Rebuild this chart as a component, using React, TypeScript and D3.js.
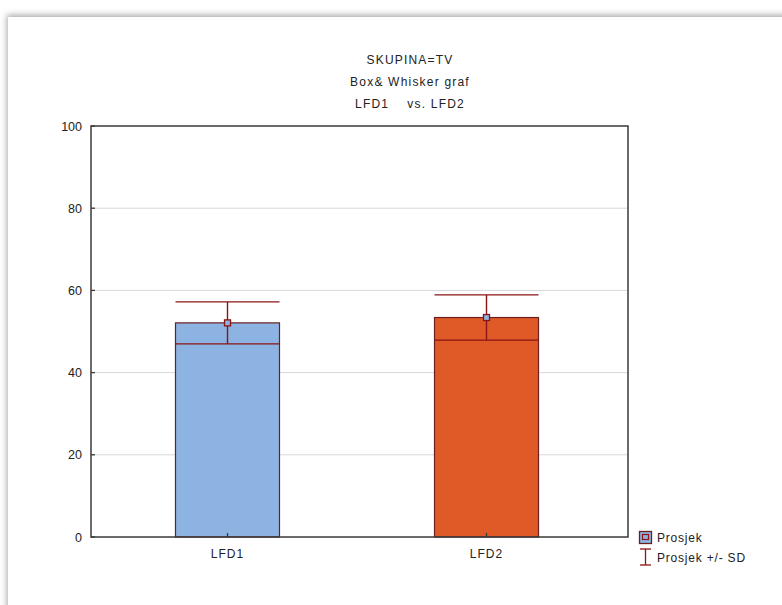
import React from "react";
import * as d3 from "d3";

const categories = ["LFD1", "LFD2"];
const means = [52.1, 53.4];
const sds = [5.1, 5.5];
const barColors = ["#8DB3E2", "#E05A28"];
const yTicks = [0, 20, 40, 60, 80, 100];
const titleLines = ["SKUPINA=TV", "Box& Whisker graf", "LFD1    vs. LFD2"];
const legendLabels = ["Prosjek", "Prosjek +/- SD"];

const W = 782;
const H = 605;
const plot = { left: 91, right: 628, top: 126, bottom: 537 };
const FONT = "'Liberation Sans', Arial, sans-serif";
const DARKRED = "#8B1414";
const AXIS = "#3a3a3a";

export default function App() {
  const y = d3.scaleLinear().domain([0, 100]).range([plot.bottom, plot.top]);
  const x = d3
    .scalePoint<string>()
    .domain(categories)
    .range([plot.left, plot.right - 5])
    .padding(0.527);
  const barW = 104;
  const capW = 104;

  return (
    <svg
      width={W}
      height={H}
      style={{ position: "absolute", left: 0, top: 0, background: "#fff" }}
      fontFamily={FONT}
    >
      <defs>
        <filter id="sh" x="-5%" y="-5%" width="110%" height="110%">
          <feGaussianBlur in="SourceAlpha" stdDeviation="3" />
          <feOffset dx="-1" dy="-2" result="b" />
          <feFlood floodColor="#000" floodOpacity="0.35" />
          <feComposite in2="b" operator="in" />
          <feMerge>
            <feMergeNode />
            <feMergeNode in="SourceGraphic" />
          </feMerge>
        </filter>
      </defs>
      <rect x={8} y={17} width={W + 20} height={H + 20} fill="#fff" filter="url(#sh)" />

      {titleLines.map((t, i) => (
        <text
          key={i}
          x={410}
          y={64 + i * 22}
          textAnchor="middle"
          fontSize={12}
          letterSpacing={1.2}
          fill="#222"
          style={{ whiteSpace: "pre" }}
        >
          {t}
        </text>
      ))}

      {/* grid */}
      {yTicks
        .filter((t) => t > 0 && t < 100)
        .map((t) => (
          <line
            key={t}
            x1={plot.left}
            x2={plot.right}
            y1={y(t)}
            y2={y(t)}
            stroke="#d8d8d8"
            strokeWidth={1}
          />
        ))}

      {/* bars */}
      {categories.map((c, i) => {
        const cx = x(c)!;
        const m = means[i];
        const s = sds[i];
        return (
          <g key={c}>
            <rect
              x={cx - barW / 2}
              y={y(m)}
              width={barW}
              height={y(0) - y(m)}
              fill={barColors[i]}
              stroke="#6a2020"
              strokeWidth={1.2}
            />
            <line x1={cx} x2={cx} y1={y(m + s)} y2={y(m - s)} stroke={DARKRED} strokeWidth={1.4} />
            <line x1={cx - capW / 2} x2={cx + capW / 2} y1={y(m + s)} y2={y(m + s)} stroke={DARKRED} strokeWidth={1.4} />
            <line x1={cx - capW / 2} x2={cx + capW / 2} y1={y(m - s)} y2={y(m - s)} stroke={DARKRED} strokeWidth={1.4} />
            <rect x={cx - 3} y={y(m) - 3} width={6} height={6} fill="#8DB3E2" stroke={DARKRED} strokeWidth={1.3} />
          </g>
        );
      })}

      {/* frame */}
      <rect
        x={plot.left}
        y={plot.top}
        width={plot.right - plot.left}
        height={plot.bottom - plot.top}
        fill="none"
        stroke={AXIS}
        strokeWidth={1.5}
      />

      {/* y ticks */}
      {yTicks.map((t) => (
        <g key={t}>
          <line x1={plot.left} x2={plot.left + 4} y1={y(t)} y2={y(t)} stroke={AXIS} strokeWidth={1.3} />
          <text x={82} y={y(t) + 4.5} textAnchor="end" fontSize={12.5} fill="#222">
            {t}
          </text>
        </g>
      ))}

      {/* x ticks */}
      {categories.map((c) => (
        <g key={c}>
          <line x1={x(c)!} x2={x(c)!} y1={plot.bottom} y2={plot.bottom - 4} stroke={AXIS} strokeWidth={1.3} />
          <text x={x(c)!} y={558} textAnchor="middle" fontSize={12} letterSpacing={1} fill="#222">
            {c}
          </text>
        </g>
      ))}

      {/* legend */}
      <g>
        <rect x={639.5} y={531.5} width={12} height={12} fill="#8DB3E2" stroke="#6a2020" strokeWidth={1.3} />
        <rect x={642.5} y={534.5} width={6} height={5} fill="none" stroke={DARKRED} strokeWidth={1.2} />
        <text x={657} y={542} fontSize={12} letterSpacing={0.8} fill="#222">
          {legendLabels[0]}
        </text>
        <line x1={645.5} x2={645.5} y1={549} y2={565} stroke={DARKRED} strokeWidth={1.3} />
        <line x1={640} x2={651} y1={549} y2={549} stroke={DARKRED} strokeWidth={1.3} />
        <line x1={640} x2={651} y1={565} y2={565} stroke={DARKRED} strokeWidth={1.3} />
        <text x={657} y={562} fontSize={12} letterSpacing={0.8} fill="#222" style={{ whiteSpace: "pre" }}>
          {legendLabels[1]}
        </text>
      </g>
    </svg>
  );
}
